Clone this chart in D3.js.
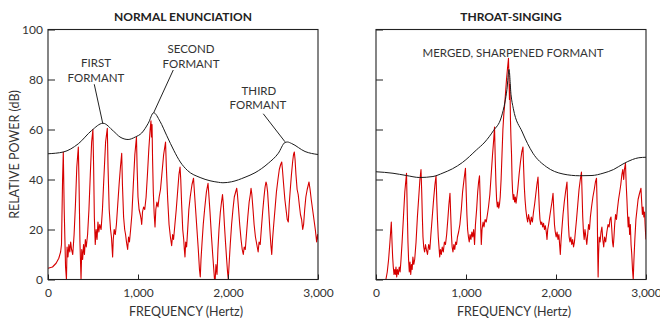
<!DOCTYPE html>
<html><head><meta charset="utf-8">
<script src="https://cdn.jsdelivr.net/npm/d3@7"></script>
<style>
body{margin:0;background:#fff;}
text{font-family:Lato,"Open Sans",sans-serif;fill:#333;}
</style></head>
<body><svg id="c" width="660" height="320"></svg>
<script>
// ---------- data ----------
const freqTicks = [0, 1000, 2000, 3000];
const freqTickLabels = ["0", "1,000", "2,000", "3,000"];
const dbTicks = [0, 20, 40, 60, 80, 100];
const panelTitles = ["NORMAL ENUNCIATION", "THROAT-SINGING"];
const xTitle = "FREQUENCY (Hertz)";
const yTitle = "RELATIVE POWER (dB)";

// black formant envelopes [Hz, dB]
const normalEnvelope = [[0,50.3],[170,51],[337,54.3],[485,59.6],[611,62.5],[726,59.4],[800,57],[890,56],[970,57],[1041,58.6],[1114,62.5],[1174,66.7],[1244,63.3],[1320,57.5],[1400,51.5],[1470,47],[1550,43.6],[1690,40.8],[1800,39.5],[1892,38.9],[1944,38.7],[2041,39.1],[2189,40.9],[2300,42.7],[2448,46.5],[2559,50.5],[2633,54.8],[2660,55],[2707,54.4],[2856,51.2],[3000,50]];
const throatEnvelope = [[0,43.1],[189,42.5],[337,41.6],[485,40.8],[633,41.2],[744,42.6],[850,44.3],[960,46.8],[1115,51.8],[1210,55],[1304,59.5],[1393,65],[1433,71],[1455,76],[1478,84],[1500,74],[1525,68.5],[1625,59],[1744,50.5],[1892,45.1],[2078,42.2],[2263,41.5],[2400,41.6],[2522,42.5],[2640,44],[2744,46.2],[2850,48],[2920,48.7],[3000,48.9]];

// red harmonic spectra [Hz, dB]
const normalSpectrum = [[0,4.5],[50,5],[90,6.5],[120,8.5],[140,11],[150,14],[155,25],[162,40],[170,51],
[180,28],[195,5],[205,0],[212,13],[222,9],[232,14],[242,11],[252,15],[262,12],[275,10],[290,18],[305,30],[320,45],[337,53],
[345,38],[355,15],[367,0],[375,12],[385,8],[395,14],[405,10],[415,16],[425,13],[440,18],[455,28],[470,42],[485,55],[499,60],
[507,45],[515,25],[525,14],[535,20],[545,16],[555,23],[565,19],[575,22],[590,20],[605,28],[620,40],[640,55],[659,60.5],
[667,45],[680,28],[695,20],[705,17],[718,9],[725,16],[735,20],[748,18],[760,22],[775,30],[790,38],[805,45],[819,50.5],
[827,38],[840,25],[852,20],[862,18],[872,15],[885,12],[895,17],[905,15],[918,20],[932,26],[948,38],[965,50],[983,57],
[990,45],[1000,33],[1012,28],[1025,26],[1035,24],[1041,22],[1050,27],[1062,29],[1075,28],[1090,33],[1105,42],[1120,52],[1135,60],[1144,63.5],[1150,57],[1156,62],
[1162,48],[1170,35],[1180,26],[1189,21],[1198,28],[1210,31],[1222,29],[1235,33],[1250,36],[1265,42],[1285,50],[1306,55],
[1315,45],[1330,32],[1345,22],[1360,17],[1374,13.5],[1385,18],[1395,16],[1410,22],[1425,28],[1440,35],[1455,42],[1467,45],
[1475,40],[1485,30],[1497,20],[1508,16],[1515,12],[1522,9],[1530,15],[1540,13],[1552,20],[1565,28],[1580,33],[1600,38],[1617,40.5],
[1625,36],[1640,28],[1655,20],[1670,12],[1683,4],[1692,1],[1700,8],[1712,15],[1725,22],[1740,28],[1760,35],[1778,38.5],
[1785,35],[1800,27],[1815,18],[1830,10],[1842,4],[1850,0],[1858,0],[1866,6],[1878,2],[1888,12],[1900,20],[1915,27],[1928,31],[1939,34],
[1948,30],[1960,22],[1972,15],[1985,8],[1995,3],[2003,0],[2012,6],[2025,14],[2040,22],[2055,28],[2070,33],[2085,35],[2097,36.5],
[2105,34],[2118,28],[2130,22],[2145,16],[2158,12],[2170,10],[2180,13],[2192,12],[2205,18],[2220,25],[2235,31],[2248,34],[2256,36.5],
[2265,34],[2278,28],[2290,22],[2305,17],[2320,14],[2335,11],[2345,15],[2358,14],[2370,20],[2385,27],[2400,33],[2412,37],[2422,39],
[2430,38],[2440,35],[2452,28],[2465,20],[2476,14],[2486,10],[2495,16],[2508,22],[2522,28],[2538,35],[2555,40],[2570,44],[2585,46],[2597,47],
[2605,44],[2618,38],[2632,32],[2645,28],[2658,24],[2670,23],[2680,30],[2692,36],[2705,42],[2718,47],[2728,50],[2737,51],
[2745,48],[2755,42],[2768,36],[2780,34],[2792,30],[2805,26],[2818,24],[2830,20],[2840,22],[2852,28],[2865,33],[2880,36],[2900,39],
[2912,36],[2925,32],[2940,28],[2955,24],[2970,20],[2985,15],[2995,18],[3000,16]];

const throatSpectrum = [[110,0],[125,3],[140,8],[155,15],[170,23],
[178,15],[185,9],[192,5],[200,2],[208,4],[215,2],[222,5],[230,1],[238,4],[248,2],[258,5],[268,3],[278,8],[290,15],[305,25],[320,35],[339,42.5],
[347,28],[355,15],[362,8],[370,3],[378,7],[386,2],[394,6],[402,4],[410,9],[420,6],[430,8],[445,15],[460,25],[475,33],[488,40],[500,44],
[508,35],[515,25],[522,17],[530,13],[540,11],[550,14],[560,12],[572,10],[585,14],[598,12],[610,18],[625,25],[640,32],[655,38],[667,41.5],
[675,32],[683,24],[692,17],[700,13],[708,9],[716,12],[726,10],[736,13],[748,11],[760,15],[772,14],[785,18],[798,24],[810,30],[822,34.5],
[830,26],[838,18],[846,13],[855,11],[865,14],[875,12],[885,15],[895,14],[905,17],[918,19],[932,22],[948,28],[962,35],[978,40],[994,44.5],
[1002,35],[1010,26],[1018,20],[1027,17],[1036,15],[1045,18],[1055,16],[1065,19],[1075,17],[1085,20],[1095,14],[1105,22],[1118,28],[1130,35],[1140,39],[1150,41.5],
[1157,33],[1163,22],[1170,14],[1178,20],[1190,23],[1200,21],[1212,24],[1225,23],[1238,26],[1250,29],[1265,34],[1280,42],[1295,50],[1308,56],[1317,61],
[1325,48],[1333,38],[1340,32],[1348,29],[1356,31],[1364,28.5],[1372,30],[1380,33],[1390,40],[1400,50],[1410,60],[1420,66],[1430,70],[1440,75],[1450,80],[1460,84],[1472,88.5],[1478,80],[1483,72],[1488,78],[1494,64],[1500,56],[1506,50],
[1512,40],[1518,35],[1525,32],[1532,34],[1540,31],[1548,33],[1556,30.5],[1565,33],[1575,36],[1590,42],[1605,47],[1620,51],[1633,53],
[1640,45],[1648,37],[1656,32],[1665,28],[1675,25],[1685,23],[1695,26],[1705,24],[1715,22],[1725,25],[1738,23],[1750,27],[1762,30],[1775,34],[1788,38],[1800,41],
[1808,34],[1815,28],[1822,24],[1832,22],[1842,23],[1852,21],[1862,22.5],[1872,20],[1882,21.5],[1892,19],[1900,16],[1908,20],[1918,22],[1930,25],[1942,28],[1955,31],[1967,34.5],
[1975,28],[1983,22],[1992,19],[2002,17],[2012,19],[2022,16],[2032,18],[2040,14],[2048,10],[2055,15],[2065,20],[2078,26],[2092,31],[2106,35],[2122,39],
[2130,30],[2138,22],[2146,17],[2155,15],[2165,17],[2175,14],[2185,16],[2195,13],[2205,15],[2215,19],[2228,24],[2242,30],[2256,36],[2270,40],[2283,43],
[2290,34],[2297,25],[2305,19],[2313,16],[2322,20],[2332,17],[2342,14],[2352,18],[2362,22],[2372,20],[2382,25],[2395,29],[2410,33],[2425,36],[2438,39],[2450,40.5],
[2458,28],[2463,12],[2468,1],[2473,10],[2480,17],[2490,15],[2500,19],[2510,21],[2520,16],[2530,13],[2540,17],[2552,15],[2565,19],[2578,22],[2590,21],[2600,24],[2611,25],
[2620,20],[2628,15],[2636,13],[2644,17],[2652,22],[2662,26],[2672,24],[2682,28],[2695,32],[2708,35],[2720,38],[2732,42],[2742,44],[2752,40],[2760,44],[2772,46.5],
[2780,38],[2788,32],[2795,26],[2802,21],[2810,25],[2818,18],[2826,22],[2834,14],[2842,10],[2850,4],[2858,0],[2866,8],[2876,16],[2888,24],[2900,28],[2912,32],[2925,34],[2944,36.5],
[2952,31],[2960,26],[2968,29],[2976,25],[2984,27],[2990,22],[2996,18],[3000,16]];

// annotations: text lines at [Hz, dB] (centre, baseline), leader from -> to in [Hz, dB]
const normalLabels = [
  {lines:["FIRST","FORMANT"], at:[[533,85.2],[533,79]], from:[514,78.1], to:[608,62.5]},
  {lines:["SECOND","FORMANT"], at:[[1589,90.8],[1589,84.6]], from:[1392,83.8], to:[1174,66.7]},
  {lines:["THIRD","FORMANT"], at:[[2344,74],[2333,68.2]], from:[2392,66.3], to:[2633,55.1]}
];
const throatLabels = [
  {lines:["MERGED, SHARPENED FORMANT"], at:[[1522,89]], from:null, to:null}
];

// ---------- drawing ----------
const svg = d3.select("#c");
const y = d3.scaleLinear().domain([0,100]).range([279.5,29.5]);
const panels = [
  {x0:48, x1:318, env:normalEnvelope, spec:normalSpectrum, labels:normalLabels, yLabels:true, title:panelTitles[0]},
  {x0:376, x1:646, env:throatEnvelope, spec:throatSpectrum, labels:throatLabels, yLabels:false, title:panelTitles[1]}
];

panels.forEach((p,i)=>{
  const x = d3.scaleLinear().domain([0,3000]).range([p.x0,p.x1]);
  const g = svg.append("g");
  const cid = "clip"+i;
  svg.append("clipPath").attr("id",cid).append("rect")
    .attr("x",p.x0).attr("y",y(100)).attr("width",p.x1-p.x0).attr("height",y(0)-y(100));

  // red spectrum
  g.append("path").datum(p.spec)
    .attr("clip-path",`url(#${cid})`)
    .attr("fill","none").attr("stroke","#d60000").attr("stroke-width",1.1)
    .attr("stroke-linejoin","round")
    .attr("d", d3.line().x(d=>x(d[0])).y(d=>y(d[1])));

  // envelope
  g.append("path").datum(p.env)
    .attr("fill","none").attr("stroke","#1a1a1a").attr("stroke-width",1)
    .attr("d", d3.line().curve(d3.curveMonotoneX).x(d=>x(d[0])).y(d=>y(d[1])));

  // axes
  const ya = d3.axisLeft(y).tickValues(dbTicks).tickSizeInner(-7).tickSizeOuter(0).tickPadding(5)
    .tickFormat(p.yLabels ? d3.format("d") : "");
  const yg = g.append("g").attr("transform",`translate(${p.x0},0)`).call(ya);
  const xa = d3.axisBottom(x).tickValues(freqTicks).tickSizeInner(-5).tickSizeOuter(0).tickPadding(9)
    .tickFormat((d,k)=>freqTickLabels[k]);
  const xg = g.append("g").attr("transform",`translate(0,${y(0)})`).call(xa);
  [yg,xg].forEach(a=>{
    a.select(".domain").remove();
    a.selectAll("line").attr("stroke","#222");
    a.selectAll("text").style("font-size","12px").attr("fill","#333");
  });

  // frame
  g.append("rect").attr("x",p.x0).attr("y",y(100)).attr("width",p.x1-p.x0).attr("height",y(0)-y(100))
    .attr("fill","none").attr("stroke","#222").attr("stroke-width",1.1);

  // title
  g.append("text").attr("x",(p.x0+p.x1)/2).attr("y",21).attr("text-anchor","middle")
    .style("font-size","12px").style("font-weight","bold").style("fill","#222").text(p.title);
  // x title
  g.append("text").attr("x",(p.x0+p.x1)/2+3).attr("y",316).attr("text-anchor","middle")
    .style("font-size","12.5px").text(xTitle);

  // annotations
  p.labels.forEach(l=>{
    l.lines.forEach((t,k)=>{
      g.append("text").attr("x",x(l.at[k][0])).attr("y",y(l.at[k][1])).attr("text-anchor","middle")
        .style("font-size","11.5px").text(t);
    });
    if(l.from){
      g.append("line").attr("x1",x(l.from[0])).attr("y1",y(l.from[1]))
        .attr("x2",x(l.to[0])).attr("y2",y(l.to[1])).attr("stroke","#222").attr("stroke-width",1);
    }
  });
});

// y title
svg.append("text").attr("transform",`translate(19,${y(50)}) rotate(-90)`).attr("text-anchor","middle")
  .style("font-size","12.5px").text(yTitle);
</script></body></html>
